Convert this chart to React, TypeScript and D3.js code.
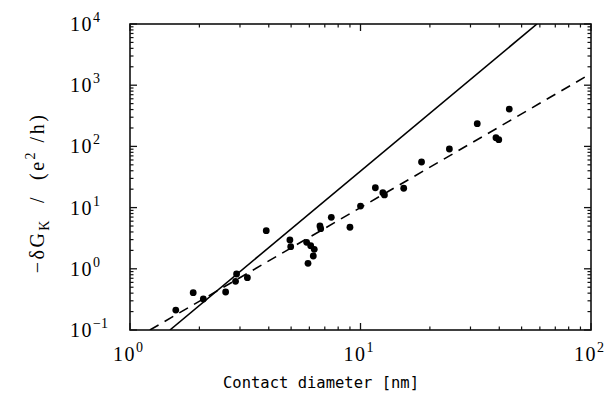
import React from "react";
import * as d3 from "d3";

const diameters = [1.58, 1.88, 2.08, 2.6, 2.9, 2.87, 3.23, 3.9, 4.94, 4.98, 5.84, 6.08, 6.3, 6.24, 5.92, 6.67, 6.72, 7.47, 9.0, 10.0, 11.6, 12.5, 12.7, 15.4, 18.4, 24.3, 32.1, 38.7, 39.8, 44.2];
const conductances = [0.212, 0.407, 0.321, 0.418, 0.822, 0.625, 0.716, 4.2, 2.96, 2.3, 2.71, 2.39, 2.08, 1.62, 1.23, 5.0, 4.52, 6.94, 4.77, 10.6, 21.1, 17.5, 16.1, 20.7, 55.6, 90.7, 235, 139, 129, 408];

const solidLineD = [1.49, 58.3];
const solidLineG = [0.1, 10000];
const dashedLineD = [1.22, 94.2];
const dashedLineG = [0.1, 1361];

const xDecades = [0, 1, 2];
const yDecades = [-1, 0, 1, 2, 3, 4];

const W = 610, H = 398;
const L = 130, R = 591, T = 24, B = 330;

export default function App() {
  const x = d3.scaleLog().domain([1, 100]).range([L, R]);
  const y = d3.scaleLog().domain([0.1, 10000]).range([B, T]);
  const line = d3.line<[number, number]>().x((p) => x(p[0])).y((p) => y(p[1]));

  const xMinor: number[] = [];
  for (let e = 0; e < 2; e++) for (let m = 2; m <= 9; m++) xMinor.push(m * Math.pow(10, e));
  const yMinor: number[] = [];
  for (let e = -1; e < 4; e++) for (let m = 2; m <= 9; m++) yMinor.push(m * Math.pow(10, e));

  const numFont = "'Liberation Serif', 'Times New Roman', serif";
  const tickColor = "#111";

  return (
    <svg width={W} height={H} style={{ position: "absolute", left: 0, top: 0, background: "#fff" }}>
      <rect x={0} y={0} width={W} height={H} fill="#fff" />
      <defs>
        <clipPath id="plotclip">
          <rect x={L} y={T} width={R - L} height={B - T} />
        </clipPath>
      </defs>
      <rect x={L} y={T} width={R - L} height={B - T} fill="none" stroke={tickColor} strokeWidth={1.6} />
      {xDecades.map((e) => {
        const px = x(Math.pow(10, e));
        return (
          <g key={"xM" + e}>
            <line x1={px} x2={px} y1={B} y2={B - 7} stroke={tickColor} strokeWidth={1.3} />
            <line x1={px} x2={px} y1={T} y2={T + 7} stroke={tickColor} strokeWidth={1.3} />
          </g>
        );
      })}
      {xMinor.map((v, i) => {
        const px = x(v);
        return (
          <g key={"xm" + i}>
            <line x1={px} x2={px} y1={B} y2={B - 3.5} stroke={tickColor} strokeWidth={1.2} />
            <line x1={px} x2={px} y1={T} y2={T + 3.5} stroke={tickColor} strokeWidth={1.2} />
          </g>
        );
      })}
      {yDecades.map((e) => {
        const py = y(Math.pow(10, e));
        return (
          <g key={"yM" + e}>
            <line x1={L} x2={L + 7} y1={py} y2={py} stroke={tickColor} strokeWidth={1.3} />
            <line x1={R} x2={R - 7} y1={py} y2={py} stroke={tickColor} strokeWidth={1.3} />
          </g>
        );
      })}
      {yMinor.map((v, i) => {
        const py = y(v);
        return (
          <g key={"ym" + i}>
            <line x1={L} x2={L + 3.5} y1={py} y2={py} stroke={tickColor} strokeWidth={1.2} />
            <line x1={R} x2={R - 3.5} y1={py} y2={py} stroke={tickColor} strokeWidth={1.2} />
          </g>
        );
      })}
      {xDecades.map((e) => {
        const px = x(Math.pow(10, e));
        return (
          <text key={"xl" + e} x={px - 17} y={B + 31} fontFamily={numFont} fontSize={20} letterSpacing={1.5} fill="#000">
            10
            <tspan dy={-9} fontSize={14} letterSpacing={0}>{e < 0 ? "\u2212" + -e : String(e)}</tspan>
          </text>
        );
      })}
      {yDecades.map((e) => {
        const py = y(Math.pow(10, e));
        return (
          <text key={"yl" + e} x={70} y={py + 7} fontFamily={numFont} fontSize={20} letterSpacing={1.5} fill="#000">
            10
            <tspan dy={-9} fontSize={14} letterSpacing={0}>{e < 0 ? "\u2212" + -e : String(e)}</tspan>
          </text>
        );
      })}
      <g clipPath="url(#plotclip)">
        <path
          d={line(solidLineD.map((d, i) => [d, solidLineG[i]] as [number, number])) || ""}
          fill="none"
          stroke="#000"
          strokeWidth={1.6}
        />
        <path
          d={line(dashedLineD.map((d, i) => [d, dashedLineG[i]] as [number, number])) || ""}
          fill="none"
          stroke="#000"
          strokeWidth={1.6}
          strokeDasharray="10,7"
        />
        {diameters.map((d, i) => (
          <circle key={"p" + i} cx={x(d)} cy={y(conductances[i])} r={3.4} fill="#000" />
        ))}
      </g>
      <text x={321} y={388} textAnchor="middle" fontFamily="'DejaVu Sans Mono', monospace" fontSize={15.5} fill="#000">
        Contact diameter [nm]
      </text>
      <text
        transform="translate(44,193) rotate(-90)"
        textAnchor="middle"
        fontFamily={numFont}
        fontSize={20}
        letterSpacing={2.5}
        fill="#000"
        xmlSpace="preserve"
      >
        {"\u2212\u03B4G"}
        <tspan dy={5} fontSize={14}>K</tspan>
        <tspan dy={-5}>{"  /  (e"}</tspan>
        <tspan dy={-9} fontSize={14}>2</tspan>
        <tspan dy={9}>{" /h)"}</tspan>
      </text>
    </svg>
  );
}
